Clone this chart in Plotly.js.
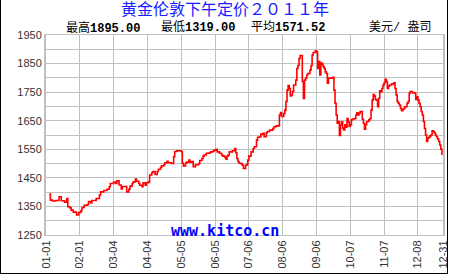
<!DOCTYPE html>
<html>
<head>
<meta charset="utf-8">
<script src="https://cdn.plot.ly/plotly-3.0.1.min.js"></script>
<style>
html,body{margin:0;padding:0;background:#fff;}
#wrap{position:relative;width:450px;height:275px;overflow:hidden;}
#chart{width:450px;height:275px;}
#frame{position:absolute;left:0;top:-5px;width:448px;height:279px;box-sizing:border-box;border:1px solid #000;pointer-events:none;}
</style>
</head>
<body>
<div id="wrap"><div id="chart"></div><div id="frame"></div></div>
<script>
// ---- data ----
const titleText = '黄金伦敦下午定价２０１１年';
const statLabels = ['最高', '最低', '平均'];
const statValues = ['1895.00', '1319.00', '1571.52'];
const unitText = '美元/ 盎司';
const watermarkText = 'www.kitco.cn';

// day offset from 2011-01-01 of each observation
const dayOfYear = [3,4,6,9,12,14,17,19,20,22,23,25,28,30,32,33,35,38,39,41,42,46,49,50,53,56,58,59,62,64,65,67,69,70,73,
  74,76,77,79,80,82,83,85,86,88,89,91,92,94,95,97,98,100,102,103,105,106,108,109,111,112,115,117,118,120,124,125,126,128,129,131,132,134,135,137,140,141,143,
  144,145,147,150,151,153,154,156,157,159,161,162,164,165,166,167,168,171,173,174,175,176,177,179,180,181,183,184,185,186,188,190,191,193,194,196,197,199,200,202,203,205,208,209,211,
  213,214,215,216,218,219,220,221,222,223,224,225,226,227,229,230,231,232,233,234,235,236,237,238,239,240,242,243,244,245,247,248,249,250,251,252,253,254,255,256,257,258,259,260,262,263,264,265,266,267,268,269,270,271,272,273,274,275,276,277,278,279,280,281,283,284,
  285,286,287,288,289,290,291,292,293,294,296,297,298,299,300,301,302,303,304,305,306,307,308,309,310,311,312,313,314,315,317,319,320,321,322,323,324,325,326,327,328,329,331,332,333,334,336,338,339,340,341,342,343,344,345,346,347,348,349,350,351,352,353,354,355,356,357,358,359,360,361,362,363];
const price = [1393,1372,1369,1371,1384,1370,1365,1378,1349,1345,1337,1330,1320,1329,1335,1346,1354,1357,1367,1362,1371,1378,1390,1401,1406,1410,1419,1430,1435,1430,1440,1425,1411,1420,1420,
  1401,1410,1421,1430,1436,1446,1438,1430,1424,1419,1433,1424,1433,1436,1460,1468,1472,1462,1472,1480,1487,1492,1496,1503,1508,1503,1500,1524,1542,1545,1542,1501,1492,1501,1505,1512,1505,1507,1489,1496,1500,1511,1518,
  1526,1530,1536,1538,1541,1543,1547,1550,1541,1536,1530,1526,1521,1515,1526,1530,1541,1545,1553,1538,1518,1507,1501,1499,1494,1483,1494,1496,1512,1526,1541,1553,1559,1582,1592,1594,1603,1606,1594,1608,1612,1617,1623,1629,1632,
  1632,1670,1679,1665,1675,1687,1717,1757,1773,1763,1737,1740,1752,1775,1792,1833,1843,1868,1878,1878,1787,1728,1792,1799,1810,1815,1827,1843,1880,1889,1895,1891,1833,1857,1810,1852,1848,1840,1833,1821,1815,1781,1799,1799,1799,1802,1757,1711,1670,1641,1647,1598,1636,1646,1624,1618,1636,1627,1658,1646,1630,1636,1653,1656,1658,1670,
  1678,1670,1676,1682,1682,1655,1641,1620,1636,1647,1653,1658,1687,1722,1742,1736,1724,1722,1699,1728,1755,1751,1763,1775,1783,1795,1787,1763,1771,1775,1779,1783,1763,1740,1717,1711,1705,1693,1685,1689,1693,1699,1711,1717,1746,1752,1748,1746,1724,1734,1722,1711,1699,1682,1670,1647,1623,1600,1577,1589,1592,1597,1600,1615,1612,1608,1600,1594,1586,1577,1565,1550,1530];

const xTickDates = ['2011-01-01','2011-02-01','2011-03-04','2011-04-04','2011-05-05','2011-06-05','2011-07-06','2011-08-06','2011-09-06','2011-10-07','2011-11-07','2011-12-08','2011-12-31'];
const xTickText = ['01-01','02-01','03-04','04-04','05-05','06-05','07-06','08-06','09-06','10-07','11-07','12-08','12-31'];
const yTickVals = [1250,1300,1350,1400,1450,1500,1550,1600,1650,1700,1750,1800,1850,1900,1950];
const yTickText = ['1250','','1350','','1450','','1550','','1650','','1750','','1850','','1950'];

// ---- build ----
function toDate(d) {
  return new Date(Date.UTC(2011, 0, 1) + d * 86400000).toISOString().slice(0, 10);
}
const xDates = dayOfYear.map(toDate);

const grid = '#c0c0c0';
const tickFont = {family: 'Liberation Sans, Arial, sans-serif', size: 11, color: '#333'};

const trace = {
  type: 'scatter', mode: 'lines', x: xDates, y: price,
  line: {color: '#ff0000', width: 1.6, shape: 'hv'},
  hoverinfo: 'skip'
};

const statX = [0.0453, 0.2846, 0.5113];
const annotations = statLabels.map((lab, i) => ({
  xref: 'paper', yref: 'paper', x: statX[i], y: 1.036, xanchor: 'left', yanchor: 'middle',
  text: lab + '<b>' + statValues[i] + '</b>', showarrow: false,
  font: {family: 'Liberation Mono, Noto Sans CJK SC, monospace', size: 12, color: '#000'}
}));
annotations.push({
  xref: 'paper', yref: 'paper', x: 0.8086, y: 1.036, xanchor: 'left', yanchor: 'middle',
  text: unitText, showarrow: false,
  font: {family: 'Liberation Mono, Noto Sans CJK SC, monospace', size: 12, color: '#000'}
});
annotations.push({
  xref: 'paper', yref: 'paper', x: 0.452, y: 0.0225, xanchor: 'center', yanchor: 'middle',
  text: '<b>' + watermarkText + '</b>', showarrow: false,
  font: {family: 'DejaVu Sans Mono, monospace', size: 15, color: '#0000ff'}
});

const layout = {
  width: 450, height: 275,
  margin: {l: 46, r: 7, t: 35, b: 40},
  paper_bgcolor: '#fff', plot_bgcolor: '#fff',
  showlegend: false,
  title: {
    text: titleText, x: 0.5, xanchor: 'center', xref: 'container',
    y: 0.985, yref: 'container', yanchor: 'top',
    font: {family: 'Noto Sans CJK SC, sans-serif', size: 16, color: '#1a1aff'}
  },
  xaxis: {
    type: 'date', range: ['2011-01-01', '2011-12-31'],
    tickmode: 'array', tickvals: xTickDates, ticktext: xTickText,
    tickangle: -90, tickfont: tickFont,
    showgrid: true, gridcolor: grid, gridwidth: 1,
    showline: true, linecolor: grid, linewidth: 1, mirror: true,
    ticks: '', zeroline: false, fixedrange: true
  },
  yaxis: {
    range: [1250, 1950],
    tickmode: 'array', tickvals: yTickVals, ticktext: yTickText,
    tickfont: tickFont,
    showgrid: true, gridcolor: grid, gridwidth: 1,
    showline: true, linecolor: grid, linewidth: 2, mirror: true,
    ticks: '', zeroline: false, fixedrange: true
  },
  annotations: annotations
};

Plotly.newPlot('chart', [trace], layout, {displayModeBar: false, staticPlot: true});
</script>
</body>
</html>
